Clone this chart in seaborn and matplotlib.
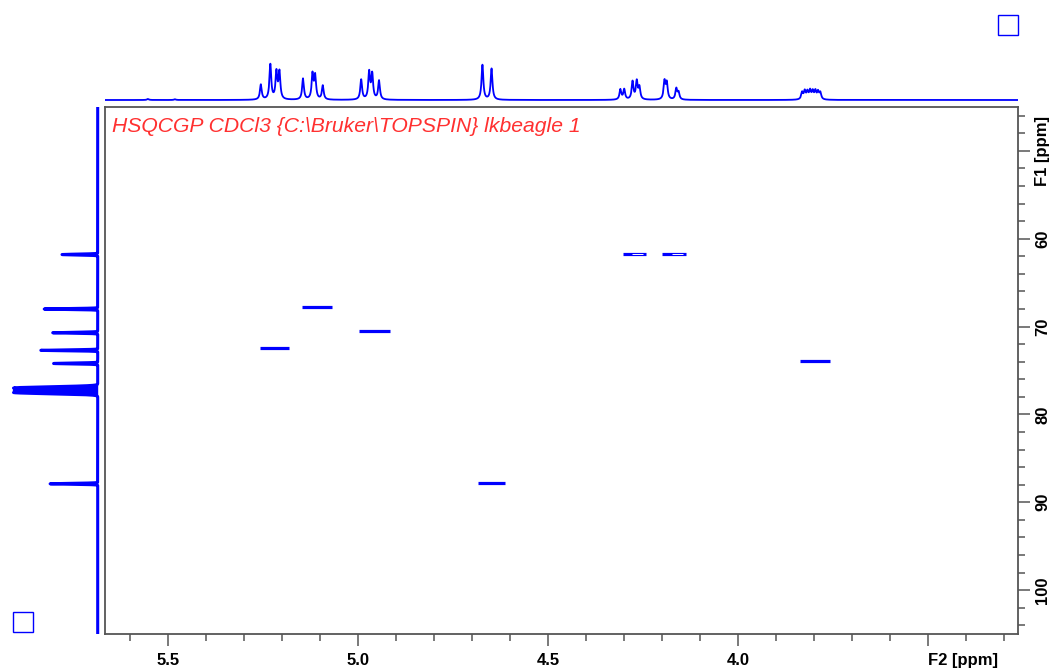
import numpy as np
import pandas as pd
import matplotlib
matplotlib.use("Agg")
import matplotlib.pyplot as plt
from matplotlib.patches import Rectangle
from matplotlib.ticker import MultipleLocator
import seaborn as sns

# ---------------- data ----------------
# 1H projection (F2): peak positions [ppm] and relative intensities
f2_peak_ppm = [5.552, 5.481,
               5.255, 5.230, 5.214, 5.206,
               5.144, 5.119, 5.112, 5.092,
               4.991, 4.970, 4.962, 4.944,
               4.672, 4.648,
               4.309, 4.299, 4.277, 4.266, 4.259,
               4.193, 4.187, 4.162, 4.156,
               3.831, 3.824, 3.817, 3.810, 3.803, 3.796, 3.789, 3.783]
f2_peak_int = [3, 2,
               43, 100, 77, 77,
               60, 71, 66, 40,
               57, 77, 71, 54,
               100, 89,
               29, 29, 51, 51, 34,
               51, 46, 31, 20,
               20, 23, 21, 24, 22, 23, 21, 19]

# 13C projection (F1): peak positions [ppm] and relative intensities
f1_peak_ppm = [61.8, 68.0, 70.7, 72.7, 74.2, 76.97, 77.25, 77.53, 87.9]
f1_peak_int = [42, 63, 53, 67, 52, 92, 86, 92, 56]

# HSQC cross peaks: F2 centre, F1 centre, F2 extent of the multiplet
cross_f2 = [5.219, 5.107, 4.956, 4.648, 4.272, 4.168, 3.797]
cross_f1 = [72.4, 67.8, 70.5, 87.8, 61.7, 61.7, 73.9]
cross_f2_extent = [0.076, 0.079, 0.082, 0.071, 0.061, 0.063, 0.079]

x_ticks = [5.5, 5.0, 4.5, 4.0, 3.5]
x_tick_labels = ["5.5", "5.0", "4.5", "4.0", "F2 [ppm]"]
y_ticks = [50, 60, 70, 80, 90, 100]
y_tick_labels = ["F1 [ppm]", "60", "70", "80", "90", "100"]
title_text = r"HSQCGP CDCl3 {C:\Bruker\TOPSPIN} lkbeagle 1"

f2_range = (5.665, 3.263)
f1_range = (105.0, 45.0)
hollow_peaks = [4, 5]   # cross peaks drawn as outlined contours

# ---------------- styling ----------------
sns.set_theme(style="white")
plt.rcParams["font.family"] = ["Liberation Sans", "DejaVu Sans"]
BLUE = "#0000ff"
FRAME = "#555555"

W, H = 1055, 671
fig = plt.figure(figsize=(W / 100, H / 100), dpi=100)
fig.patch.set_facecolor("white")


def px_rect(x0, y0_top, x1, y1_top):
    return [x0 / W, (H - y1_top) / H, (x1 - x0) / W, (y1_top - y0_top) / H]


ax = fig.add_axes(px_rect(105, 107, 1018, 634))
ax_top = fig.add_axes(px_rect(105, 56, 1018, 104), sharex=ax)
ax_left = fig.add_axes(px_rect(4, 107, 101, 634), sharey=ax)

# ---------------- 1D projections ----------------
hw2 = 0.0028
x_grid = np.linspace(f2_range[1], f2_range[0], 7000)
spec2 = np.zeros_like(x_grid)
for p, h in zip(f2_peak_ppm, f2_peak_int):
    spec2 += h / (1 + ((x_grid - p) / hw2) ** 2)
sns.lineplot(x=x_grid, y=spec2, ax=ax_top, color=BLUE, lw=1.3,
             estimator=None, sort=False)
ax_top.set_ylim(-4 * 2.857, 44 * 2.857)

y_grid = np.linspace(f1_range[1], f1_range[0], 9000)
spec1 = np.zeros_like(y_grid)
for p, h in zip(f1_peak_ppm, f1_peak_int):
    sig = 0.12 if 76.5 < p < 78 else 0.05
    spec1 += h * np.exp(-0.5 * ((y_grid - p) / sig) ** 2)
sns.lineplot(x=spec1, y=y_grid, ax=ax_left, color=BLUE, lw=2.2,
             estimator=None, sort=False, orient="y")
ax_left.fill_betweenx(y_grid, 0, spec1, color=BLUE, lw=0)
ax_left.set_xlim((97.7 - 4) * 1.176, -(101 - 97.7) * 1.176)

for a in (ax_top, ax_left):
    a.set_axis_off()
    a.patch.set_alpha(0)

# ---------------- 2D cross peaks ----------------
rows = []
for i, (c2, c1, e) in enumerate(zip(cross_f2, cross_f1, cross_f2_extent)):
    rows.append({"peak": i, "f2": c2 - e / 2, "f1": c1})
    rows.append({"peak": i, "f2": c2 + e / 2, "f1": c1})
cross_df = pd.DataFrame(rows)
sns.lineplot(data=cross_df, x="f2", y="f1", units="peak", estimator=None,
             sort=False, color=BLUE, lw=2.3, ax=ax, solid_capstyle="butt")
inner_rows = []
for i in hollow_peaks:
    c2, c1, e = cross_f2[i], cross_f1[i], cross_f2_extent[i]
    inner_rows.append({"peak": i, "f2": c2 - e * 0.36, "f1": c1})
    inner_rows.append({"peak": i, "f2": c2 + e * 0.10, "f1": c1})
sns.lineplot(data=pd.DataFrame(inner_rows), x="f2", y="f1", units="peak",
             estimator=None, sort=False, color="white", lw=0.7, ax=ax,
             solid_capstyle="butt")

ax.set_xlim(*f2_range)
ax.set_ylim(*f1_range)
ax.set_xlabel("")
ax.set_ylabel("")

for s in ax.spines.values():
    s.set_color(FRAME)
    s.set_linewidth(1.3)

ax.set_xticks(x_ticks)
ax.set_xticklabels(x_tick_labels)
ax.xaxis.set_minor_locator(MultipleLocator(0.1))
ax.yaxis.tick_right()
ax.set_yticks(y_ticks)
ax.set_yticklabels(y_tick_labels, rotation=90, va="center")
ax.yaxis.set_minor_locator(MultipleLocator(2))

ax.tick_params(axis="both", which="major", direction="out", length=8.5,
               width=1.1, color=FRAME, labelsize=12, labelcolor="black")
ax.tick_params(axis="both", which="minor", direction="out", length=5,
               width=1.1, color=FRAME)
ax.tick_params(axis="x", which="both", bottom=True, top=False, pad=5.5)
ax.tick_params(axis="y", which="both", right=True, left=False, pad=4)
for lbl in ax.get_xticklabels() + ax.get_yticklabels():
    lbl.set_fontweight("bold")
ax.xaxis.get_major_ticks()[-1].label1.set_horizontalalignment("left")

ax.text((112 - 105) / 913, 1 - 20 / 527, title_text, transform=ax.transAxes,
        ha="left", va="center", fontsize=15.2, style="italic",
        color="#ff3030")

# TopSpin corner boxes
fig.add_artist(Rectangle((998 / W, (H - 35) / H), 20 / W, 20 / H,
                         transform=fig.transFigure, fill=False,
                         edgecolor=BLUE, lw=1.0))
fig.add_artist(Rectangle((13 / W, (H - 632) / H), 20 / W, 20 / H,
                         transform=fig.transFigure, fill=False,
                         edgecolor=BLUE, lw=1.0))

fig.savefig("out.png", dpi=100, facecolor="white")
